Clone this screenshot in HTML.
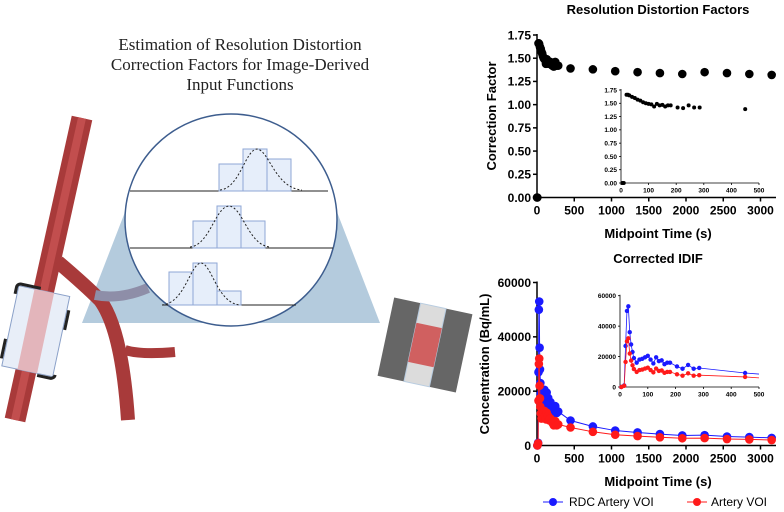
<!DOCTYPE html>
<html><head><meta charset="utf-8"><style>
html,body{margin:0;padding:0;background:#fff;width:784px;height:512px;overflow:hidden}
svg{display:block}
.t{font-family:"Liberation Sans",sans-serif;font-weight:bold;fill:#000}
</style></head><body>
<svg id="s" width="784" height="512" viewBox="0 0 784 512" xmlns="http://www.w3.org/2000/svg">
<g font-family="Liberation Serif,serif" font-size="17" fill="#222" text-anchor="middle">
<text x="240" y="50">Estimation of Resolution Distortion</text>
<text x="240" y="70">Correction Factors for Image-Derived</text>
<text x="240" y="90">Input Functions</text>
</g>
<polygon points="82,323 380,323 337,212 125,212" fill="#b4cbdd"/>
<g fill="none" stroke-linecap="butt">
<path d="M82,118 L15,420" stroke="#a83a3a" stroke-width="21"/>
<path d="M58,262 Q85,285 100,300 Q122,330 128,420" stroke="#a83a3a" stroke-width="14"/>
<path d="M125,350 Q140,355 175,352" stroke="#a83a3a" stroke-width="10"/>
<path d="M82,118 L15,420" stroke="#c24e4e" stroke-width="8"/>
<path d="M95,295 Q120,300 148,288" stroke="#8e8ea8" stroke-width="10"/>
</g>
<g transform="rotate(12 35 330)">
<rect x="10" y="290" width="52" height="82" fill="#e8eef8" stroke="#8aa0c8" stroke-width="1"/>
<rect x="26" y="290" width="20" height="82" fill="#e3b5bb"/>
<rect x="8" y="288" width="56" height="86" rx="4" fill="none" stroke="#222" stroke-width="3" stroke-dasharray="20 46"/>
</g>
<circle cx="231" cy="220" r="106" fill="#fff" stroke="#3d5d8e" stroke-width="1.5"/>
<g stroke="#222" stroke-width="1">
<line x1="130" y1="191" x2="328" y2="191"/>
<line x1="130" y1="248" x2="333" y2="248"/>
<line x1="162" y1="305" x2="296" y2="305"/>
</g>
<g fill="#e6eefa" stroke="#8fa7d6" stroke-width="1">
<rect x="219" y="164" width="24" height="27"/><rect x="243" y="149" width="24" height="42"/><rect x="267" y="159" width="24" height="32"/>
<rect x="193" y="221" width="24" height="27"/><rect x="217" y="206" width="24" height="42"/><rect x="241" y="221" width="24" height="27"/>
<rect x="169" y="272" width="24" height="33"/><rect x="193" y="263" width="24" height="42"/><rect x="217" y="291" width="24" height="14"/>
</g>
<g fill="none" stroke="#222" stroke-dasharray="2 2" stroke-width="1">
<path d="M220,190 C240,188 245,150 257,149 C269,150 275,188 302,190"/>
<path d="M190,247 C210,245 215,207 229,206 C243,207 248,245 270,247"/>
<path d="M162,305 C185,303 190,264 201,263 C212,264 217,303 240,305"/>
</g>
<g transform="rotate(12 425 345)">
<rect x="385" y="305" width="80" height="80" fill="#666"/>
<rect x="412" y="305" width="26" height="80" fill="#dcdcdc" stroke="#b8cce0"/>
<rect x="412" y="325" width="26" height="40" fill="#d06060"/>
</g>
</svg>
<script>
const S=document.getElementById('s'),NS='http://www.w3.org/2000/svg';
function el(t,a,txt){const e=document.createElementNS(NS,t);for(const k in a)e.setAttribute(k,a[k]);if(txt!=null)e.textContent=txt;S.appendChild(e);return e;}
function txt(x,y,s,fs,anc,extra){return el('text',Object.assign({x,y,'font-size':fs,'text-anchor':anc||'middle','class':'t'},extra||{}),s);}
function axes(o){
 const X=v=>o.x0+v/o.xmax*(o.x1-o.x0), Y=v=>o.y0+v/o.ymax*(o.y1-o.y0);
 el('line',{x1:o.x0,y1:o.y0,x2:o.x0,y2:o.y1-1,stroke:'#000','stroke-width':o.w});
 el('line',{x1:o.x0,y1:o.y0,x2:o.xe||o.x1,y2:o.y0,stroke:'#000','stroke-width':o.w});
 o.xt.forEach(v=>{el('line',{x1:X(v),y1:o.y0,x2:X(v),y2:o.y0+o.tick,stroke:'#000','stroke-width':o.w});txt(X(v),o.y0+o.tick+o.fs+1,String(v),o.fs);});
 o.yt.forEach(v=>{el('line',{x1:o.x0-o.tick,y1:Y(v),x2:o.x0,y2:Y(v),stroke:'#000','stroke-width':o.w});txt(o.x0-o.tick-2,Y(v)+o.fs*0.36,o.fmt(v),o.fs,'end');});
 return [X,Y];
}
let [X,Y]=axes({x0:537,x1:760.5,xmax:3000,xe:776,y0:197.5,y1:35,ymax:1.75,xt:[0,500,1000,1500,2000,2500,3000],yt:[0,.25,.5,.75,1,1.25,1.5,1.75],fs:12,tick:4,w:1.5,fmt:v=>v.toFixed(2)});
const inset=[[20,1.66],[25,1.66],[30,1.65],[40,1.62],[50,1.6],[60,1.57],[70,1.55],[80,1.52],[90,1.5],[100,1.49],[110,1.48],[120,1.44],[130,1.49],[140,1.46],[150,1.47],[160,1.44],[170,1.46],[180,1.46],[205,1.42],[225,1.41],[245,1.46],[265,1.42],[285,1.42]];
const late=[[450,1.39],[750,1.38],[1050,1.36],[1350,1.35],[1650,1.34],[1950,1.33],[2250,1.35],[2550,1.34],[2850,1.33],[3150,1.32]];
[[0,0],[5,0],...inset,...late].forEach(p=>el('circle',{cx:X(p[0]),cy:Y(p[1]),r:4.3,fill:'#000'}));
txt(658,14,'Resolution Distortion Factors',13);
txt(658,238,'Midpoint Time (s)',13);
txt(0,0,'Correction Factor',13,'middle',{transform:'translate(496,116) rotate(-90)'});
[X,Y]=axes({x0:621,x1:759,xmax:500,y0:183,y1:90,ymax:1.75,xt:[0,100,200,300,400,500],yt:[0,.25,.5,.75,1,1.25,1.5,1.75],fs:6.5,tick:2,w:0.8,fmt:v=>v.toFixed(2)});
[[5,0],[10,0],...inset,[450,1.39]].forEach(p=>el('circle',{cx:X(p[0]),cy:Y(p[1]),r:2,fill:'#000'}));
const B=[[5,0],[15,1000],[20,27000],[25,50000],[30,53000],[35,36000],[40,28000],[45,23000],[50,19000],[60,16000],[70,18000],[80,18500],[90,19500],[100,20500],[110,18000],[120,15500],[130,19500],[140,17000],[150,17500],[160,15000],[170,16000],[180,16000],[205,13500],[225,12000],[245,14500],[265,12000],[285,12500],[450,9200],[750,7000],[1050,5500],[1350,4800],[1650,4200],[1950,3700],[2250,3800],[2550,3300],[2850,3100],[3150,2800]];
const R=B.map(p=>[p[0],p[0]<18?p[1]*0.8:(p[0]==20?16500:p[0]==25?30000:p[0]==30?32000:p[0]==35?22000:p[1]*(p[0]>300?0.72:0.62))]);
function series(X,Y,data,col,r,sw){el('polyline',{points:data.map(p=>X(p[0])+','+Y(p[1])).join(' '),fill:'none',stroke:col,'stroke-width':sw});data.forEach(p=>el('circle',{cx:X(p[0]),cy:Y(p[1]),r,fill:col}));}
[X,Y]=axes({x0:537,x1:760.5,xmax:3000,xe:776,y0:445.5,y1:282.5,ymax:60000,xt:[0,500,1000,1500,2000,2500,3000],yt:[0,20000,40000,60000],fs:12,tick:4,w:1.5,fmt:v=>String(v)});
series(X,Y,B,'#1a1aff',4.3,1);series(X,Y,R,'#ff1a1a',4.3,1);
txt(658,263,'Corrected IDIF',13);
txt(658,486,'Midpoint Time (s)',13);
txt(0,0,'Concentration (Bq/mL)',13,'middle',{transform:'translate(489,364) rotate(-90)'});
[X,Y]=axes({x0:620,x1:759,xmax:500,y0:387,y1:295.7,ymax:60000,xt:[0,100,200,300,400,500],yt:[0,20000,40000,60000],fs:6.5,tick:2,w:0.8,fmt:v=>String(v)});
const cut=d=>d.filter(p=>p[0]<=450).concat([[500,d===B?8500:6000]]);
function iser(d,col){const dd=cut(d);el('polyline',{points:dd.map(p=>X(p[0])+','+Y(p[1])).join(' '),fill:'none',stroke:col,'stroke-width':0.8});dd.slice(0,-1).forEach(p=>el('circle',{cx:X(p[0]),cy:Y(p[1]),r:2.2,fill:col}));}
iser(B,'#1a1aff');iser(R,'#ff1a1a');
el('line',{x1:543,y1:502,x2:563,y2:502,stroke:'#1a1aff','stroke-width':1});el('circle',{cx:553,cy:502,r:4,fill:'#1a1aff'});
txt(569,506,'RDC Artery VOI',12,'start',{style:'font-weight:normal'});
el('line',{x1:687,y1:502,x2:707,y2:502,stroke:'#ff1a1a','stroke-width':1});el('circle',{cx:697,cy:502,r:4,fill:'#ff1a1a'});
txt(711,506,'Artery VOI',12,'start',{style:'font-weight:normal'});
</script>
</body></html>
